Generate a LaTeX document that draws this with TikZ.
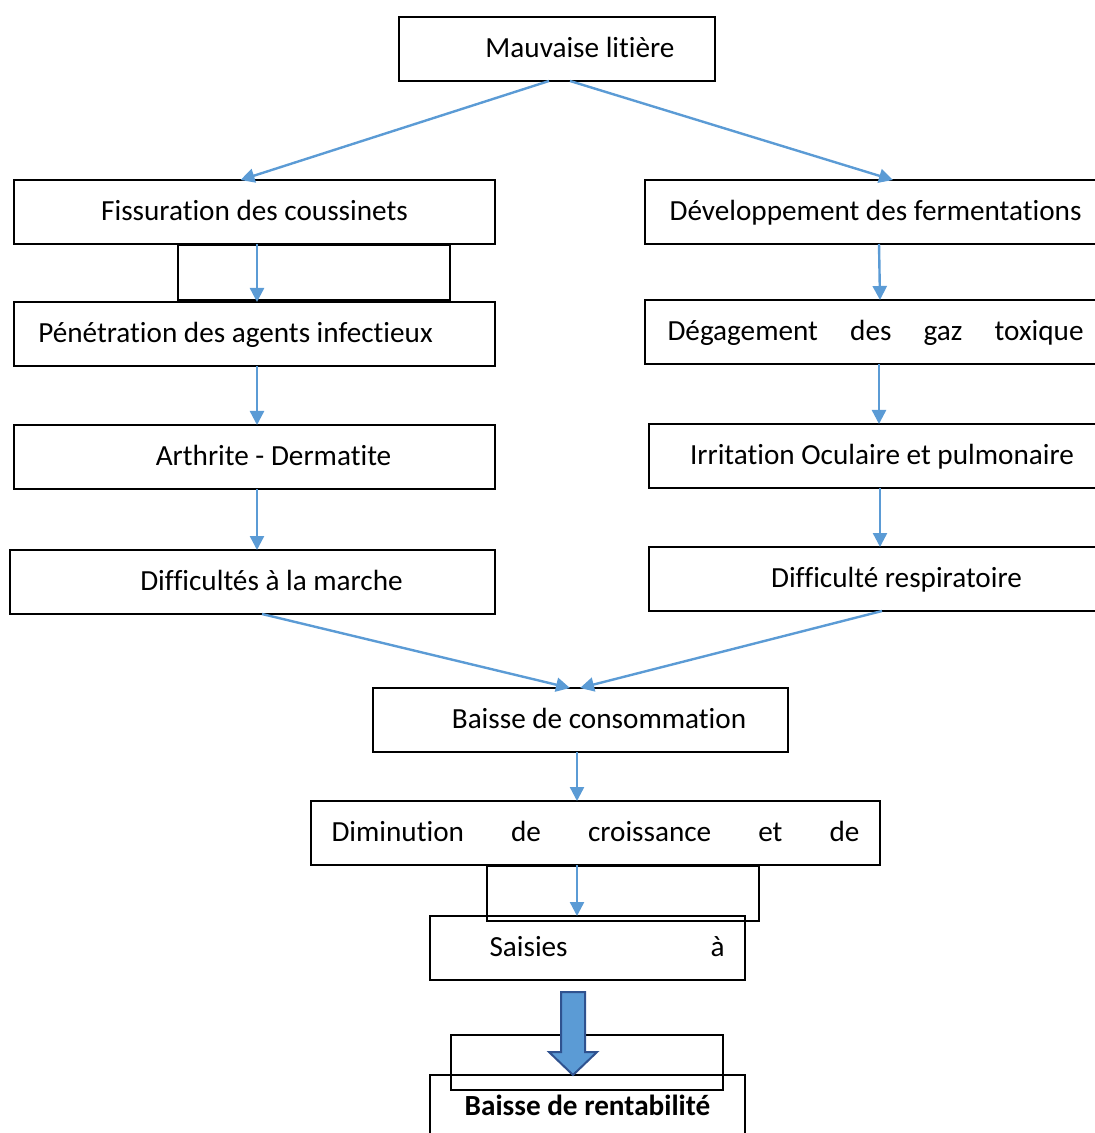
\documentclass[tikz,border=0pt]{standalone}
\usepackage{fontspec}
\setmainfont{Carlito}[RawFeature={-liga;-clig;-calt;-dlig}]
\usetikzlibrary{positioning,calc,arrows.meta}
\definecolor{bleu}{HTML}{5B9BD5}
\definecolor{bleufonce}{HTML}{2F528F}

\begin{document}
\begin{tikzpicture}
            [
            x=0.5pt, y=-0.5pt,
            etape/.style={draw, line width=1pt, outer sep=0pt, inner sep=0pt,
                minimum height=32pt, text height=11pt, text depth=2.5pt,
                font=\fontsize{14.6}{17}\selectfont},
            vide/.style={draw, line width=1pt, outer sep=0pt,
                minimum width=136pt, minimum height=27.5pt},
            fleche/.style={->, >={Triangle[length=7pt, width=7pt]},
                draw=bleu, line width=1.2pt},
            grosse fleche/.style={draw=bleufonce, fill=bleu, line width=1pt}
            ]

            \useasboundingbox (0,0) rectangle (1094,1133);

            \node (litiere) [etape, minimum width=158pt] at (557,49) {\hspace*{23pt}Mauvaise litière};

            % Left column
            \node (fiss) [etape, minimum width=240.5pt] at (254.5,212) {Fissuration des coussinets};
            \node (pene) [below=29pt of fiss, etape, minimum width=240.5pt] {Pénétration des agents infectieux\hspace*{19pt}};
            \node (arth) [below=29.5pt of pene, etape, minimum width=240.5pt] {\hspace*{19pt}Arthrite - Dermatite};
            \node (diff) [below=30.5pt of arth, xshift=-1pt, etape, minimum width=242.5pt] {\hspace*{19pt}Difficultés à la marche};

            % Right column
            \node (dev) [etape, minimum width=230.5pt] at (875.5,212) {Développement des fermentations};
            \node (deg) [below=28pt of dev, etape, minimum width=230.5pt] {\makebox[208pt][s]{Dégagement des gaz toxique}};
            \node (irr) [below=30pt of deg, xshift=3.25pt, etape, minimum width=233pt] {Irritation Oculaire et pulmonaire};
            \node (resp) [below=29.5pt of irr, etape, minimum width=233pt] {\hspace*{14.5pt}Difficulté respiratoire};

            % Bottom
            \node (cons) [etape, minimum width=207.5pt] at (580.5,720) {\hspace*{18.5pt}Baisse de consommation};
            \node (dimi) [etape, minimum width=284.5pt] at (595.5,833) {\makebox[264pt][s]{Diminution de croissance et de}};
            \node (sais) [etape, minimum width=157.5pt] at (587.5,948) {\hspace*{19.5pt}\makebox[117.5pt][s]{Saisies à}};
            \node (rent) [etape, minimum width=157.5pt] at (587.5,1107) {\bfseries Baisse de rentabilité};

            % Empty boxes
            \node (vide1) [vide] at (314,272.5) {};
            \node (vide2) [vide] at (623,893.5) {};
            \node (vide3) [vide] at (587,1062.5) {};

            \draw [fleche] ($(litiere.south)+(-8,0)$) -- ($(fiss.north)+(-14,0)$);
            \draw [fleche] ($(litiere.south)+(13,0)$) -- ($(dev.north)+(17.5,0)$);

            \draw [fleche] ($(fiss.south)+(2.5,0)$) -- ($(pene.north)+(2.5,0)$);
            \draw [fleche] ($(pene.south)+(2.5,0)$) -- ($(arth.north)+(2.5,0)$);
            \draw [fleche] ($(arth.south)+(2.5,0)$) -- ($(diff.north)+(4.5,0)$);

            \draw [fleche] ($(dev.south)+(3.5,0)$) -- ($(deg.north)+(4.5,0)$);
            \draw [fleche] ($(deg.south)+(3.5,0)$) -- ($(irr.north)+(-3,0)$);
            \draw [fleche] ($(irr.south)+(-2,0)$) -- ($(resp.north)+(-2,0)$);

            \draw [fleche] ($(diff.south)+(9.5,0)$) -- ($(cons.north)+(-10.5,0)$);
            \draw [fleche] (resp.south) -- ($(cons.north)+(-0.5,0)$);

            \draw [fleche] ($(cons.south)+(-3.5,0)$) -- ($(dimi.north)+(-18.5,0)$);
            \draw [fleche] ($(dimi.south)+(-18.5,0)$) -- ($(sais.north)+(-10.5,0)$);

            \draw [grosse fleche, shift={(sais.south)}] (-26.5,12) -- (-2.5,12) -- (-2.5,72)
                -- (9.5,72) -- (-14.5,95) -- (-38.5,72) -- (-26.5,72) -- cycle;

        \end{tikzpicture}
\end{document}
